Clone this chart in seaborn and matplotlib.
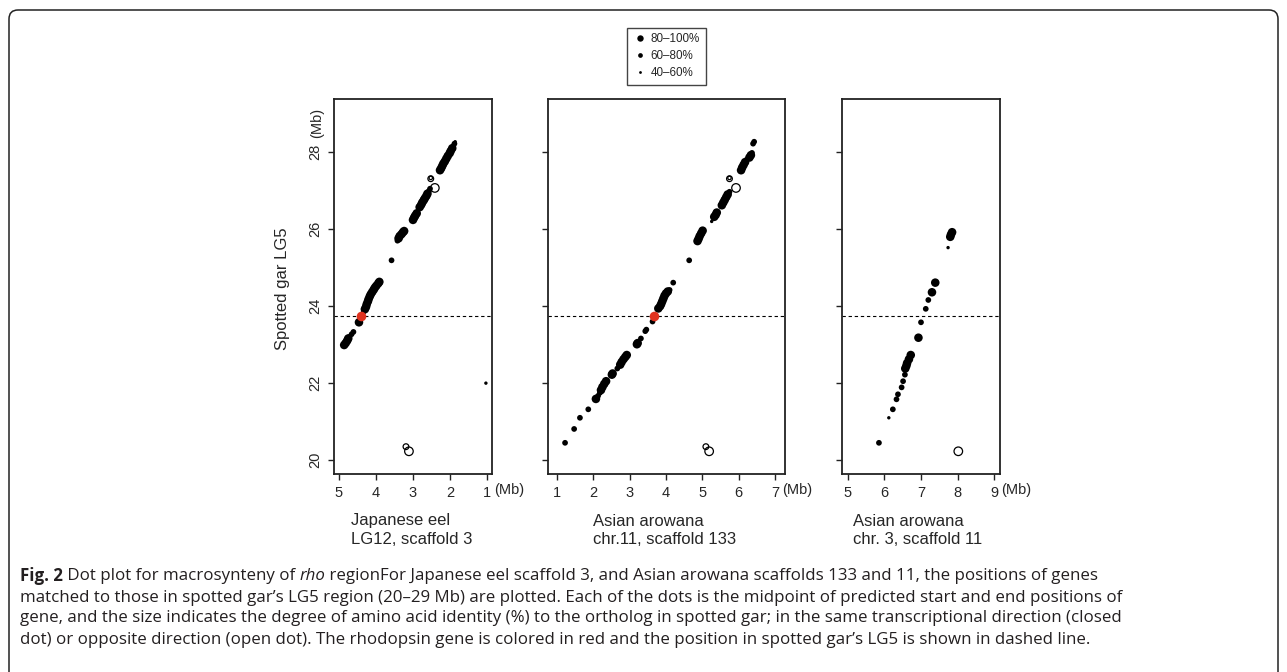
import pandas as pd
import seaborn as sns
import matplotlib.pyplot as plt
from matplotlib.lines import Line2D
from matplotlib.patches import FancyBboxPatch
import matplotlib.transforms as mtrans

# identity classes
ident_labels = ["80–100%", "60–80%", "40–60%"]
ident_sizes = {"80–100%": 38, "60–80%": 17, "40–60%": 6}
H, M, L = ident_labels

# Japanese eel, LG12 scaffold 3 (x: eel Mb, y: spotted gar LG5 Mb)
eel_x = [4.86, 4.82, 4.78, 4.75, 4.72, 4.66, 4.61, 4.46,
         4.33, 4.30, 4.27, 4.25, 4.22, 4.20, 4.17, 4.14, 4.10, 4.06, 4.03, 3.99, 3.94, 3.91,
         3.58,
         3.42, 3.39, 3.36, 3.31, 3.27, 3.24,
         3.00, 2.97, 2.94, 2.90,
         2.82, 2.78, 2.75, 2.71, 2.68, 2.64, 2.61, 2.57, 2.54,
         2.27, 2.24, 2.21, 2.18, 2.14, 2.10, 2.06, 2.01, 1.98, 1.94, 1.91, 1.88, 1.86,
         1.03]
eel_y = [22.99, 23.04, 23.10, 23.16, 23.20, 23.27, 23.33, 23.58,
         23.86, 23.92, 23.98, 24.05, 24.12, 24.18, 24.25, 24.31, 24.37, 24.43, 24.48, 24.53, 24.59, 24.63,
         25.19,
         25.70, 25.76, 25.82, 25.87, 25.92, 25.95,
         26.24, 26.30, 26.35, 26.41,
         26.57, 26.63, 26.69, 26.75, 26.80, 26.86, 26.92, 26.99, 27.05,
         27.53, 27.58, 27.64, 27.70, 27.76, 27.83, 27.90, 27.97, 28.03, 28.10, 28.16, 28.22, 28.27,
         22.00]
eel_id = [H, H, H, H, M, M, M, H,
          M, H, H, H, H, H, H, H, H, H, H, H, H, H,
          M,
          M, H, H, H, H, H,
          H, H, H, H,
          H, H, H, H, H, H, H, M, M,
          H, H, H, H, H, H, H, H, H, H, M, M, L,
          L]
eel_open_x = [2.52, 2.52, 2.41, 3.19, 3.11]
eel_open_y = [27.33, 27.31, 27.07, 20.35, 20.23]
eel_open_id = [L, M, H, M, H]
eel_rho = (4.40, 23.74)

# Asian arowana, chr.11 scaffold 133
a11_x = [1.22, 1.47, 1.63, 1.86, 2.07, 2.13, 2.18, 2.21, 2.25, 2.30, 2.35, 2.51, 2.53,
         2.66, 2.74, 2.78, 2.83, 2.88, 2.92, 3.20, 3.22, 3.31, 3.43, 3.46, 3.63,
         3.79, 3.84, 3.87, 3.90, 3.93, 3.96, 4.00, 4.05, 4.10, 4.20,
         4.64,
         4.87, 4.90, 4.93, 4.97, 5.01,
         5.26, 5.33, 5.37, 5.40,
         5.54, 5.58, 5.62, 5.66, 5.70, 5.75,
         6.07, 6.10, 6.14, 6.18, 6.22, 6.30, 6.34, 6.37, 6.40, 6.43]
a11_y = [20.45, 20.81, 21.10, 21.32, 21.59, 21.67, 21.75, 21.82, 21.90, 21.98, 22.05, 22.22, 22.25,
         22.38, 22.48, 22.55, 22.62, 22.68, 22.73, 23.01, 23.04, 23.16, 23.35, 23.39, 23.60,
         23.94, 24.00, 24.06, 24.13, 24.20, 24.27, 24.33, 24.38, 24.42, 24.61,
         25.19,
         25.69, 25.75, 25.82, 25.89, 25.96,
         26.20, 26.32, 26.37, 26.43,
         26.62, 26.69, 26.76, 26.83, 26.90, 26.97,
         27.53, 27.60, 27.67, 27.74, 27.80, 27.86, 27.92, 27.98, 28.22, 28.27]
a11_id = [M, M, M, M, H, M, M, H, H, H, H, H, H,
          M, H, H, H, H, H, H, H, M, M, M, M,
          H, H, H, H, H, H, H, H, M, M,
          M,
          H, H, H, H, H,
          L, H, H, H,
          H, H, H, H, H, M,
          H, H, H, H, M, H, H, M, M, M]
a11_open_x = [5.75, 5.75, 5.93, 5.10, 5.19]
a11_open_y = [27.33, 27.31, 27.07, 20.35, 20.23]
a11_open_id = [L, M, H, M, H]
a11_rho = (3.66, 23.74)

# Asian arowana, chr. 3 scaffold 11
a3_x = [5.85, 6.12, 6.23, 6.33, 6.37, 6.47, 6.51, 6.56, 6.57, 6.60, 6.62, 6.67, 6.72,
        6.93, 7.00, 7.13, 7.20, 7.30, 7.39, 7.74, 7.80, 7.82, 7.85]
a3_y = [20.45, 21.10, 21.32, 21.58, 21.71, 21.89, 22.05, 22.22, 22.38, 22.45, 22.52, 22.62, 22.73,
        23.18, 23.58, 23.93, 24.16, 24.36, 24.61, 25.52, 25.80, 25.86, 25.92]
a3_id = [M, L, M, M, M, M, M, M, H, H, H, H, H,
         H, M, M, M, H, H, L, H, H, H]
a3_open_x = [8.02]
a3_open_y = [20.23]
a3_open_id = [H]

rho_pos = 23.74

W, Hpx = 1287, 672

sns.set_theme(style="ticks")
plt.rcParams["font.family"] = ["Liberation Sans", "DejaVu Sans"]
plt.rcParams["axes.edgecolor"] = "#222222"
plt.rcParams["axes.linewidth"] = 1.3

fig = plt.figure(figsize=(W / 100, Hpx / 100), dpi=100)


def px_box(left, top, right, bottom):
    return [left / W, 1 - bottom / Hpx, (right - left) / W, (bottom - top) / Hpx]


def draw_panel(ax, xs, ys, ids, oxs, oys, oids, rho, xlim, xticks, ylabels):
    closed = pd.DataFrame({"x": xs, "y": ys, "ident": ids})
    opened = pd.DataFrame({"x": oxs, "y": oys, "ident": oids})
    sns.scatterplot(data=closed, x="x", y="y", size="ident", sizes=ident_sizes,
                    color="black", linewidth=0, legend=False, ax=ax)
    sns.scatterplot(data=opened, x="x", y="y", size="ident", sizes=ident_sizes,
                    facecolor="none", edgecolor="black", linewidth=0.9,
                    legend=False, ax=ax)
    if rho is not None:
        ax.scatter([rho[0]], [rho[1]], s=48, color="#e0321f", linewidth=0, zorder=3)
    ax.axhline(rho_pos, color="black", lw=0.8, ls=(0, (3, 2.5)))
    ax.set_xlim(*xlim)
    ax.set_ylim(19.64, 29.38)
    ax.set_xticks(xticks)
    ax.set_yticks([20, 22, 24, 26, 28])
    ax.set_xlabel("")
    ax.set_ylabel("")
    ax.tick_params(length=4.5, width=1, pad=4, labelsize=10.5, color="#222222")
    ax.tick_params(axis="y", labelleft=ylabels, labelrotation=90)
    for lbl in ax.get_yticklabels():
        lbl.set_va("center")
    # "(Mb)" after the last x tick
    trans = mtrans.blended_transform_factory(ax.transData, ax.transAxes)
    ax.annotate("(Mb)", xy=(xticks[-1], 0), xycoords=trans, xytext=(7, -16),
                textcoords="offset pixels", ha="left", va="center", fontsize=10.5)


ax1 = fig.add_axes(px_box(334, 99, 492, 474))
ax2 = fig.add_axes(px_box(548, 99, 785, 474))
ax3 = fig.add_axes(px_box(842, 99, 1000, 474))

draw_panel(ax1, eel_x, eel_y, eel_id, eel_open_x, eel_open_y, eel_open_id, eel_rho,
           (5.135, 0.865), [5, 4, 3, 2, 1], True)
draw_panel(ax2, a11_x, a11_y, a11_id, a11_open_x, a11_open_y, a11_open_id, a11_rho,
           (0.75, 7.28), [1, 2, 3, 4, 5, 6, 7], False)
draw_panel(ax3, a3_x, a3_y, a3_id, a3_open_x, a3_open_y, a3_open_id, None,
           (4.84, 9.16), [5, 6, 7, 8, 9], False)

ytrans = mtrans.blended_transform_factory(ax1.transAxes, ax1.transData)
ax1.annotate("(Mb)", xy=(0, 28), xycoords=ytrans, xytext=(-16.5, 14),
             textcoords="offset pixels", rotation=90, ha="center", va="bottom",
             fontsize=10.5)

fig.text(283 / W, 1 - 289 / Hpx, "Spotted gar LG5", rotation=90,
         ha="center", va="center", fontsize=12)

for x0, txt in [(351, "Japanese eel\nLG12, scaffold 3"),
                (593, "Asian arowana\nchr.11, scaffold 133"),
                (853, "Asian arowana\nchr. 3, scaffold 11")]:
    fig.text(x0 / W, 1 - 530 / Hpx, txt, ha="left", va="center",
             fontsize=12, linespacing=1.25)

handles = [Line2D([], [], marker="o", ls="", color="black", markeredgewidth=0,
                  markersize=ms) for ms in (4.6, 3.4, 2.0)]
leg = ax2.legend(handles, ident_labels, loc="lower center", bbox_to_anchor=(0.5, 1.037),
                 borderaxespad=0, fontsize=8.4, frameon=True, fancybox=False,
                 framealpha=1, edgecolor="#444444", handlelength=1.1,
                 handletextpad=0.4, borderpad=0.5, labelspacing=0.42)
leg.get_frame().set_linewidth(1.0)

# caption
caption = [
    [("Fig. 2", "bold", "normal"), (" Dot plot for macrosynteny of ", "normal", "normal"),
     ("rho", "normal", "italic"),
     (" regionFor Japanese eel scaffold 3, and Asian arowana scaffolds 133 and 11, the positions of genes",
      "normal", "normal")],
    [("matched to those in spotted gar’s LG5 region (20–29 Mb) are plotted. Each of the dots is the midpoint of predicted start and end positions of",
      "normal", "normal")],
    [("gene, and the size indicates the degree of amino acid identity (%) to the ortholog in spotted gar; in the same transcriptional direction (closed",
      "normal", "normal")],
    [("dot) or opposite direction (open dot). The rhodopsin gene is colored in red and the position in spotted gar’s LG5 is shown in dashed line.",
      "normal", "normal")],
]
line_y = [576, 597.5, 618.5, 639.5]
renderer = fig.canvas.get_renderer()
for pieces, yy in zip(caption, line_y):
    x = 20 / W
    for s, weight, style in pieces:
        t = fig.text(x, 1 - yy / Hpx, s, ha="left", va="center", fontsize=12.2,
                     family=["Open Sans", "DejaVu Sans"], fontweight=weight,
                     fontstyle=style, color="#231f20")
        x = t.get_window_extent(renderer).x1 / W

border = FancyBboxPatch((0.09, -0.5), 12.69, 6.62 + 0.5,
                        boxstyle="round,pad=0,rounding_size=0.09",
                        transform=fig.dpi_scale_trans, fill=False,
                        edgecolor="#222222", lw=1.1, clip_on=False)
fig.patches.append(border)

fig.savefig("out.png", dpi=100)
